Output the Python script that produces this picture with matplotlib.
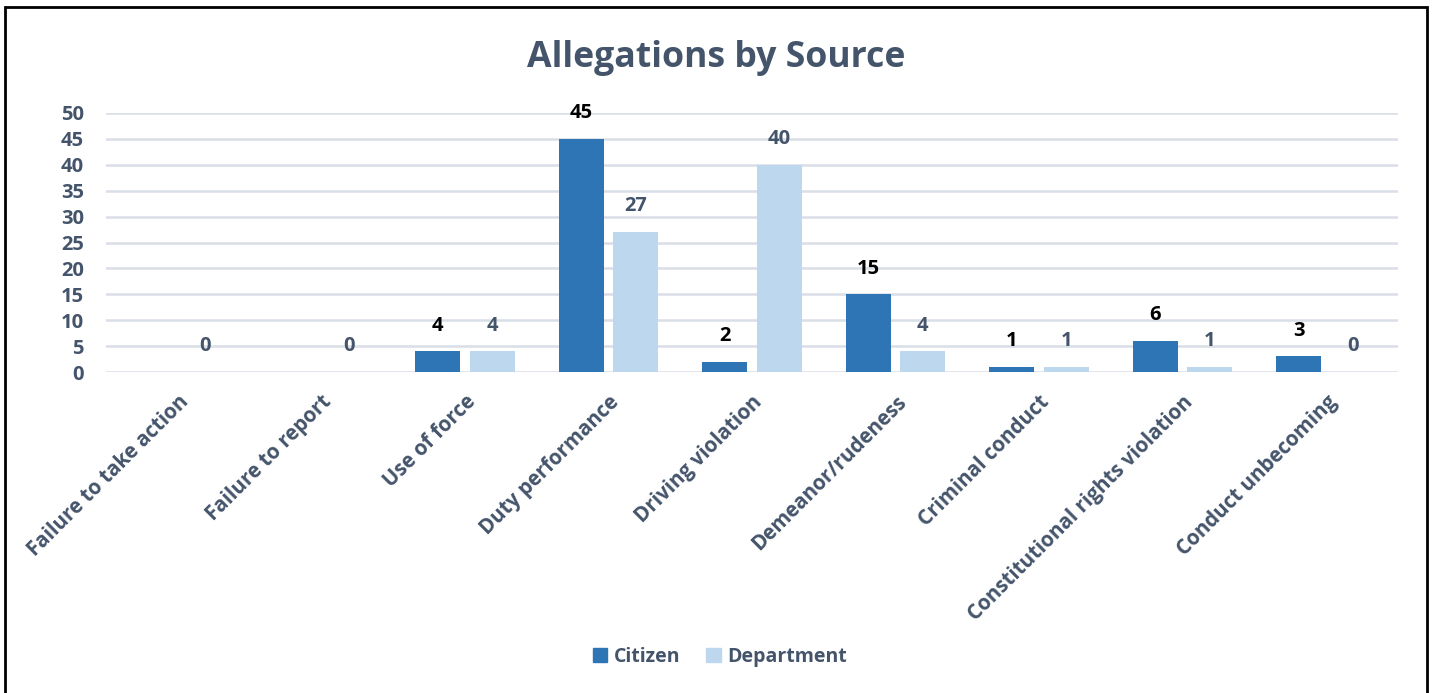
import numpy as np
from matplotlib import pyplot as plt
import matplotlib.patches as mpatches

categories = ["Failure to take action", "Failure to report", "Use of force",
              "Duty performance", "Driving violation", "Demeanor/rudeness",
              "Criminal conduct", "Constitutional rights violation",
              "Conduct unbecoming"]
citizen = [np.nan, np.nan, 4, 45, 2, 15, 1, 6, 3]
department = [0, 0, 4, 27, 40, 4, 1, 1, 0]

slate = "#44546A"
c_cit = "#2E75B6"
c_dep = "#BDD7EE"
grid_c = "#D9DFE7"

plt.rcParams['font.family'] = ['Open Sans', 'DejaVu Sans']
plt.rcParams['font.weight'] = 'bold'

fig = plt.figure(figsize=(14.34, 6.93), dpi=100)
ax = fig.add_axes([106/1434, 1 - 372/693, 1292/1434, 259/693])

x_pos = np.arange(len(categories))
width = 0.313
off = 0.19

ax.bar(x_pos - off, citizen, width, color=c_cit, label="Citizen", zorder=3)
ax.bar(x_pos + off, department, width, color=c_dep, label="Department", zorder=3)

for xi, v in zip(x_pos, citizen):
    if np.isnan(v):
        continue
    ax.annotate(str(int(v)), (xi - off, v), xytext=(0, 18.5), textcoords="offset points",
                ha="center", va="center", fontsize=14.5, fontweight="bold", color="black")
for xi, v in zip(x_pos, department):
    ax.annotate(str(int(v)), (xi + off, v), xytext=(0, 18.5), textcoords="offset points",
                ha="center", va="center", fontsize=14.5, fontweight="bold", color=slate)

ax.set_xlim(-0.5, len(categories) - 0.5)
ax.set_ylim(0, 50)
ax.set_yticks(np.arange(0, 51, 5))
ax.yaxis.grid(True, color=grid_c, linewidth=1.8, zorder=0)
ax.set_axisbelow(True)
for s in ax.spines.values():
    s.set_visible(False)
ax.tick_params(axis="both", length=0, colors=slate)
ax.tick_params(axis="y", pad=16, labelsize=14.5)
ax.tick_params(axis="x", pad=14, labelsize=14.8)
ax.set_xticks(x_pos)
ax.set_xticklabels(categories, rotation=45, ha="right", rotation_mode="anchor")
for lab in ax.get_xticklabels() + ax.get_yticklabels():
    lab.set_fontweight("bold")
    lab.set_color(slate)

fig.text(716/1434, 1 - 58/693, "Allegations by Source", ha="center", va="center",
         fontsize=25.7, fontweight="bold", color=slate)

leg = fig.legend(handles=[mpatches.Patch(color=c_cit, label="Citizen"),
                          mpatches.Patch(color=c_dep, label="Department")],
                 loc="center", bbox_to_anchor=(720/1434, 1 - 657/693), ncol=2,
                 frameon=False, fontsize=14, handlelength=0.75, handleheight=0.75,
                 handletextpad=0.35, columnspacing=1.3)
for t in leg.get_texts():
    t.set_color(slate)
    t.set_fontweight("bold")

border = mpatches.Rectangle((5/1434, -0.05), 1422/1434, 1.05 - 7/693,
                            transform=fig.transFigure, fill=False,
                            edgecolor="black", linewidth=2)
fig.patches.append(border)

fig.savefig("out.png", dpi=100)
